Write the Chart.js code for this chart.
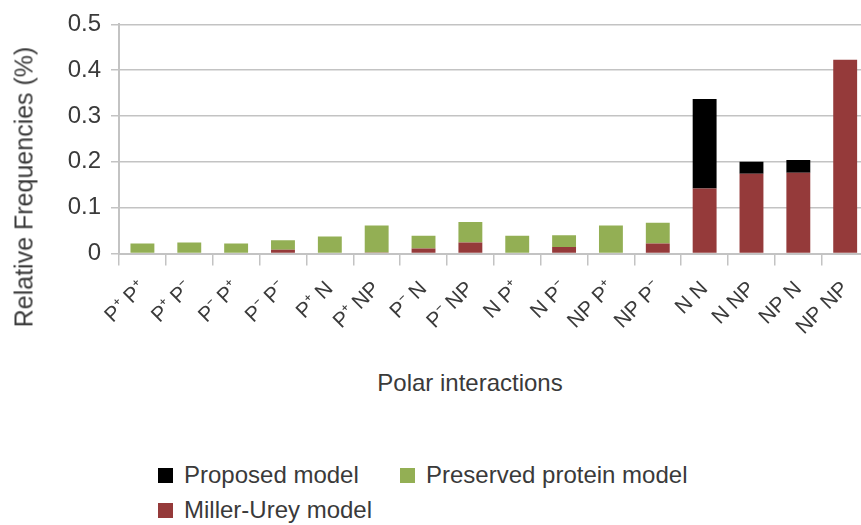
<!DOCTYPE html>
<html>
<head>
<meta charset="utf-8">
<script src="https://cdn.jsdelivr.net/npm/chart.js@4.4.1/dist/chart.umd.min.js"></script>
<style>
  html, body { margin: 0; padding: 0; background: #fff; overflow: hidden; }
  body { width: 861px; height: 525px; position: relative; font-family: "Liberation Sans", Arial, sans-serif; color: #3a3a3a; }
  #wrap { position: absolute; left: 0; top: 0; width: 874px; height: 360px; }
  .ytitle { position: absolute; left: 24px; top: 187px; transform: translate(-50%, -50%) rotate(-90deg); font-size: 25px; white-space: nowrap; }
  .xtitle { position: absolute; left: 470px; top: 383px; transform: translate(-50%, -50%); font-size: 24px; white-space: nowrap; }
  .item { position: absolute; display: flex; align-items: center; height: 34px; font-size: 24px; white-space: nowrap; }
  .item .box { width: 15px; height: 15px; margin-right: 11px; }
</style>
</head>
<body>
<div id="wrap"><canvas id="chart" width="874" height="360"></canvas></div>
<div class="ytitle">Relative Frequencies (%)</div>
<div class="xtitle">Polar interactions</div>
<div id="legend"></div>
<script>
const categories = ['P⁺ P⁺', 'P⁺ P⁻', 'P⁻ P⁺', 'P⁻ P⁻', 'P⁺ N', 'P⁺ NP', 'P⁻ N', 'P⁻ NP',
  'N P⁺', 'N P⁻', 'NP P⁺', 'NP P⁻', 'N N', 'N NP', 'NP N', 'NP NP'];

// stacked segments, bottom to top
const millerUrey = [0, 0, 0, 0.008, 0, 0.002, 0.011, 0.024, 0, 0.014, 0, 0.022, 0.142, 0.174, 0.176, 0.423];
const preserved = [0.022, 0.024, 0.022, 0.021, 0.037, 0.059, 0.028, 0.045, 0.039, 0.026, 0.061, 0.045, 0, 0, 0, 0];
const proposed = [0, 0, 0, 0, 0, 0, 0, 0, 0, 0, 0, 0, 0.195, 0.026, 0.028, 0];

const yTicks = [0, 0.1, 0.2, 0.3, 0.4, 0.5];

const gridGray = '#c3c3c3';
const textGray = '#3a3a3a';

const datasets = [
  { label: 'Miller-Urey model', data: millerUrey, backgroundColor: '#953a3a' },
  { label: 'Preserved protein model', data: preserved, backgroundColor: '#93af54' },
  { label: 'Proposed model', data: proposed, backgroundColor: '#000000' },
];

const chart = new Chart(document.getElementById('chart'), {
  type: 'bar',
  data: { labels: categories, datasets },
  options: {
    responsive: false,
    animation: false,
    devicePixelRatio: 1,
    layout: { padding: { top: 20.5, left: 0, right: 0, bottom: 0 } },
    datasets: { bar: { categoryPercentage: 1, barPercentage: 0.51 } },
    scales: {
      x: {
        stacked: true,
        afterFit: s => { s.height = 360 - 253.5; },
        grid: { offset: true, drawOnChartArea: false, drawTicks: true, tickLength: 12, color: gridGray, lineWidth: 1.5 },
        border: { color: gridGray, width: 2 },
        ticks: { minRotation: 45, maxRotation: 45, autoSkip: false, padding: 11, color: textGray,
          font: { family: 'Liberation Sans', size: 21 } },
      },
      y: {
        stacked: true,
        min: 0,
        max: 0.5,
        afterFit: s => { s.width = 119; },
        afterBuildTicks: s => { s.ticks = yTicks.map(v => ({ value: v })); },
        grid: { color: gridGray, lineWidth: 1.5, tickLength: 8 },
        border: { color: gridGray, width: 2 },
        ticks: { padding: 10, color: textGray, font: { family: 'Liberation Sans', size: 24 },
          callback: v => String(+v.toFixed(1)) },
      },
    },
    plugins: {
      legend: { display: false },
      tooltip: { enabled: false },
    },
  },
});

// legend in the original order and spots: Proposed, Preserved / Miller-Urey
const legendSpots = [[2, 158, 458], [1, 400, 458], [0, 158, 493]];
const legendEl = document.getElementById('legend');
legendSpots.forEach(([i, x, y]) => {
  const ds = chart.data.datasets[i];
  const item = document.createElement('div');
  item.className = 'item';
  item.style.left = x + 'px';
  item.style.top = y + 'px';
  const box = document.createElement('span');
  box.className = 'box';
  box.style.background = ds.backgroundColor;
  item.appendChild(box);
  item.appendChild(document.createTextNode(ds.label));
  legendEl.appendChild(item);
});
</script>
</body>
</html>
